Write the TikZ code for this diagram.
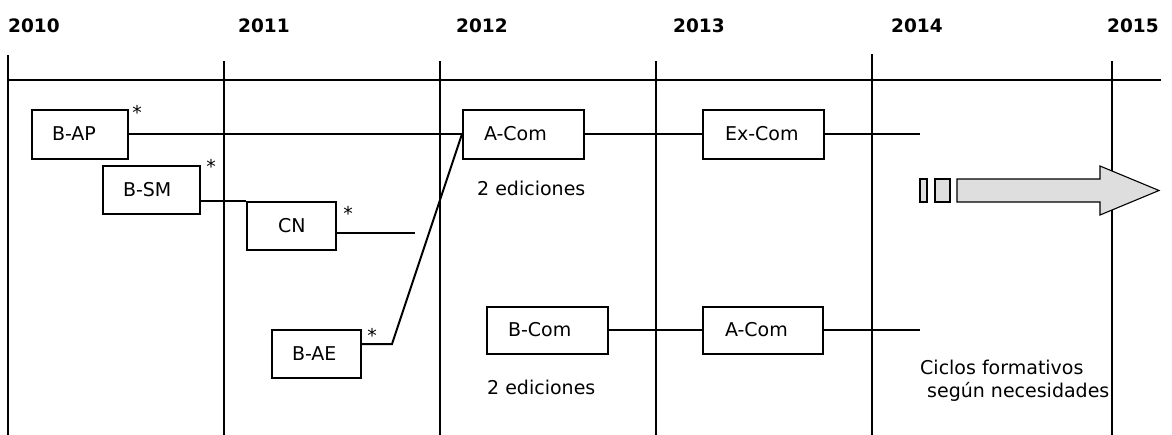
\documentclass[tikz,border=0pt]{standalone}
\usepackage{fontspec}
\setmainfont{DejaVu Sans}
\begin{document}
\begin{tikzpicture}[x=1pt,y=-1pt,
  grid/.style={line width=2pt, line cap=rect},
  conn/.style={line width=2pt},
  box/.style={draw, line width=2pt, inner ysep=0pt, align=left, minimum height=48pt,
              font=\fontsize{19}{23}\selectfont},
  year/.style={anchor=base west, inner sep=0pt, font=\fontsize{18.5}{22}\selectfont\bfseries},
  note/.style={anchor=base west, inner sep=0pt, align=left, font=\fontsize{19}{23}\selectfont},
  ast/.style={anchor=base, inner sep=0pt, font=\fontsize{19}{22}\selectfont},
  grayarrow/.style={fill=black!13, draw=black, line width=1.1pt, line join=miter}
]
\useasboundingbox (0,0) rectangle (1172,434);

% grid
\coordinate (h0) at (8,80);
\coordinate (h1) at (1160,80);
\draw[grid] (h0) -- (h1);
\draw[grid] (8,56) -- (8,434);
\draw[grid] (224,62) -- (224,434);
\draw[grid] (440,62) -- (440,434);
\draw[grid] (656,62) -- (656,434);
\draw[grid] (872,55) -- (872,434);
\draw[grid] (1112,62) -- (1112,434);

% years
\node[year] (y2010) at (8,32) {2010};
\node[year] (y2011) at (238,32) {2011};
\node[year] (y2012) at (456,32) {2012};
\node[year] (y2013) at (673,32) {2013};
\node[year] (y2014) at (891,32) {2014};
\node[year] (y2015) at (1107,32) {2015};

% boxes
\node[box, text width=56pt, inner xsep=20pt, minimum height=49pt] (BAP) at (80,134) {B-AP};
\node[box, text width=57pt, inner xsep=20pt] (BSM) at (151.5,190) {B-SM};
\node[box, text width=27pt, inner xsep=31pt] (CN) at (291.5,226) {CN};
\node[box, text width=49pt, inner xsep=20pt] (BAE) at (316.5,354) {B-AE};
\node[box, text width=79pt, inner xsep=21pt, minimum height=49pt] (AC1) at (523.5,134) {A-Com};
\node[box, text width=77pt, inner xsep=22pt, minimum height=49pt] (EX) at (763.5,134) {Ex-Com};
\node[box, text width=79pt, inner xsep=21pt, minimum height=47pt] (BC) at (547.5,330) {B-Com};
\node[box, text width=76pt, inner xsep=22pt, minimum height=47pt] (AC2) at (763,330) {A-Com};

% asterisks
\node[ast] (a1) at (137,119) {*};
\node[ast] (a2) at (211,173) {*};
\node[ast] (a3) at (348,220) {*};
\node[ast] (a4) at (372,342) {*};

% connector end points
\coordinate (cnEnd) at (415,233);
\coordinate (bend) at (392,344);
\coordinate (exEnd) at (920,134);
\coordinate (ac2End) at (920,330);

% connectors
\draw[conn] (BAP.east) -- (AC1.west);
\draw[conn] (BSM.east |- CN.north west) -- (CN.north west);
\draw[conn] (CN.east |- cnEnd) -- (cnEnd);
\draw[conn] (BAE.east |- bend) -- (bend) -- (AC1.west);
\draw[conn] (AC1.east) -- (EX.west);
\draw[conn] (EX.east) -- (exEnd);
\draw[conn] (BC.east) -- (AC2.west);
\draw[conn] (AC2.east) -- (ac2End);

% notes
\node[note] (ed1) at (477,195) {2 ediciones};
\node[note] (ed2) at (487,394) {2 ediciones};
\node[note] (ciclos) at (920,397) {Ciclos formativos\\[0pt]\hspace*{7pt}según necesidades};

% gray arrow
\draw[grayarrow] (920,179) rectangle (927,202);
\draw[grayarrow] (935,179) rectangle (950,202);
\draw[grayarrow] (957,179) -- (1100,179) -- (1100,166) -- (1159,190.5) -- (1100,215) -- (1100,202) -- (957,202) -- cycle;
\end{tikzpicture}
\end{document}
